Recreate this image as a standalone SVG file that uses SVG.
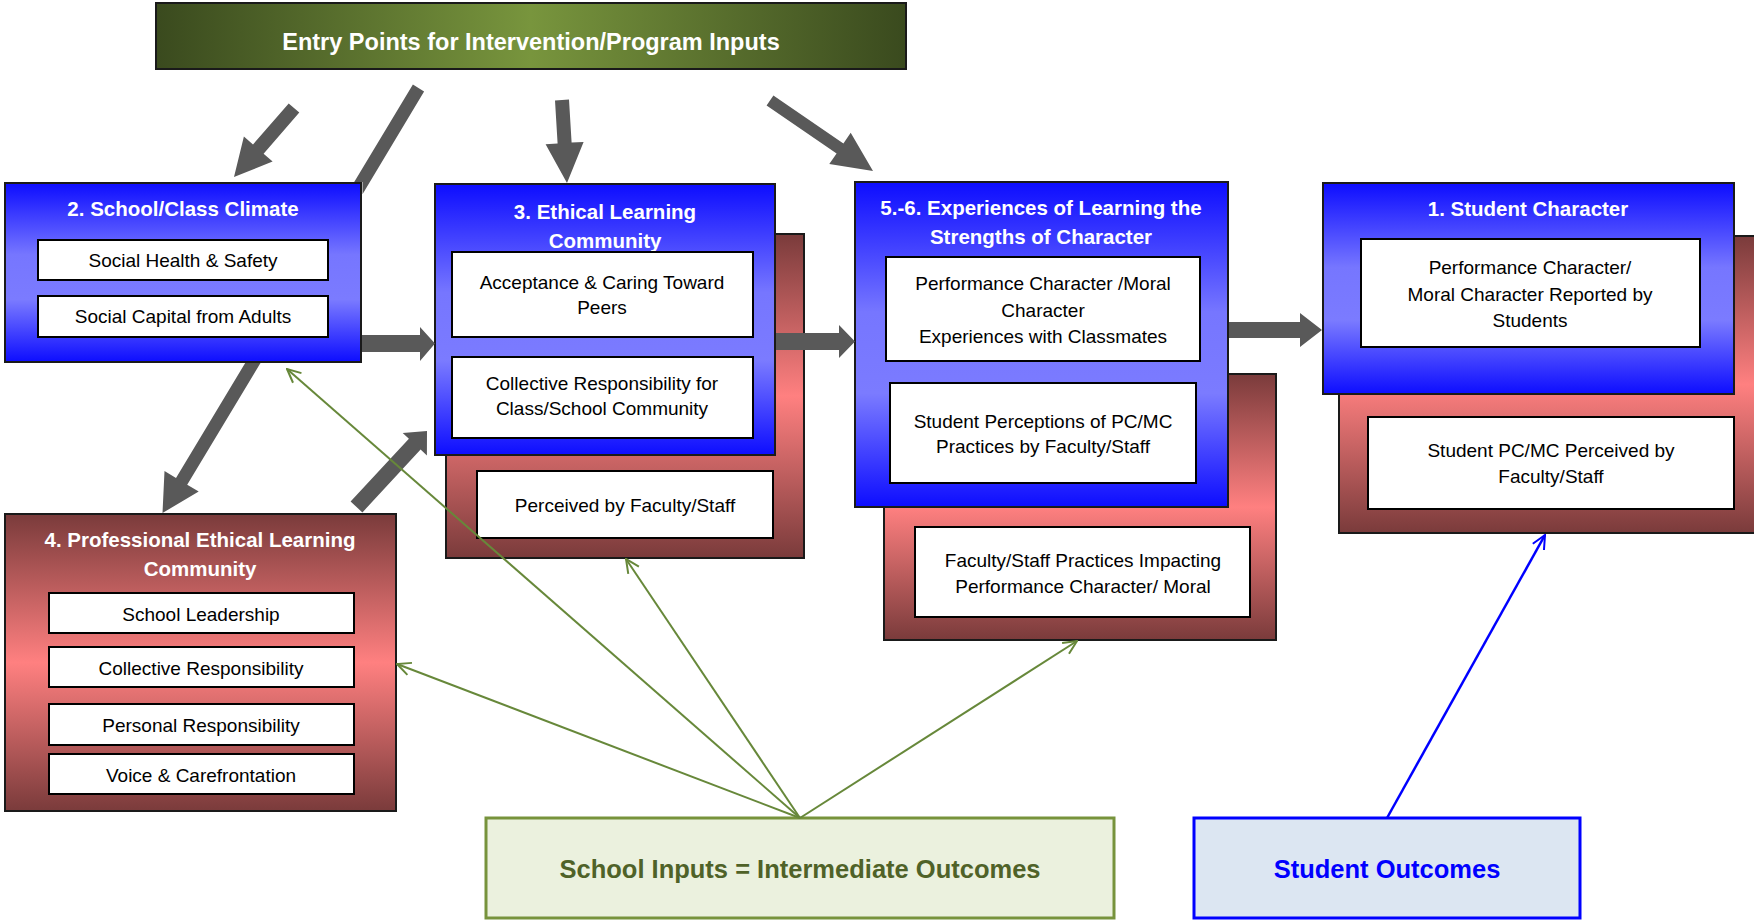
<svg xmlns="http://www.w3.org/2000/svg" width="1754" height="921" viewBox="0 0 1754 921">
<defs>
<linearGradient id="gBlue" x1="0" y1="0" x2="0" y2="1">
<stop offset="0" stop-color="#0d0dff"/>
<stop offset="0.4" stop-color="#7676ff"/>
<stop offset="0.65" stop-color="#7b7bff"/>
<stop offset="1" stop-color="#0d0dff"/>
</linearGradient>
<linearGradient id="gRed" x1="0" y1="0" x2="0" y2="1">
<stop offset="0" stop-color="#7a3b3b"/>
<stop offset="0.5" stop-color="#ff8080"/>
<stop offset="1" stop-color="#7a3b3b"/>
</linearGradient>
<linearGradient id="gTitle" x1="0" y1="0" x2="1" y2="0">
<stop offset="0" stop-color="#3a4a1e"/>
<stop offset="0.5" stop-color="#78953d"/>
<stop offset="1" stop-color="#3a4a1e"/>
</linearGradient>
<marker id="mGreen" viewBox="0 0 20 20" refX="19" refY="10" markerWidth="16" markerHeight="16" orient="auto" markerUnits="userSpaceOnUse">
<path d="M2,2 L19,10 L2,18" fill="none" stroke="#67883a" stroke-width="2.5"/>
</marker>
<marker id="mBlue" viewBox="0 0 20 20" refX="19" refY="10" markerWidth="16" markerHeight="16" orient="auto" markerUnits="userSpaceOnUse">
<path d="M2,2 L19,10 L2,18" fill="none" stroke="#0000ff" stroke-width="2.5"/>
</marker>
<style>
.box{stroke:#1a1a1a;stroke-width:2}
.blue{fill:url(#gBlue)}
.red{fill:url(#gRed)}
.inner{fill:#fff;stroke:#000;stroke-width:2}
text{font-family:"Liberation Sans",Arial,sans-serif}
.ttl{font-size:20.5px;font-weight:bold;fill:#fff;text-anchor:middle}
.lbl{font-size:19px;fill:#000;text-anchor:middle}
.garrow{fill:#595959}
.gline{stroke:#67883a;stroke-width:2;fill:none;marker-end:url(#mGreen)}
.bline{stroke:#0000ff;stroke-width:2.5;fill:none;marker-end:url(#mBlue)}
</style>
</defs>
<rect width="1754" height="921" fill="#fff"/>

<g id="title">
<rect x="156" y="3" width="750" height="66" fill="url(#gTitle)" class="box"/>
<text x="531" y="50" style="font-size:23.5px;font-weight:bold;fill:#fff;text-anchor:middle">Entry Points for Intervention/Program Inputs</text>
</g>

<g id="node2">
<rect x="5" y="183" width="356" height="179" class="box blue"/>
<text x="183" y="216" class="ttl">2. School/Class Climate</text>
<rect x="38" y="240" width="290" height="40" class="inner"/>
<text x="183" y="267" class="lbl">Social Health &amp; Safety</text>
<rect x="38" y="296" width="290" height="41" class="inner"/>
<text x="183" y="323" class="lbl">Social Capital from Adults</text>
</g>

<g id="node3">
<rect x="446" y="234" width="358" height="324" class="box red"/>
<rect x="435" y="184" width="340" height="271" class="box blue"/>
<text x="605" y="219" class="ttl">3. Ethical Learning</text>
<text x="605" y="248" class="ttl">Community</text>
<rect x="452" y="252" width="301" height="85" class="inner"/>
<text x="602" y="289" class="lbl">Acceptance &amp; Caring Toward</text>
<text x="602" y="314" class="lbl">Peers</text>
<rect x="452" y="357" width="301" height="81" class="inner"/>
<text x="602" y="390" class="lbl">Collective Responsibility for</text>
<text x="602" y="415" class="lbl">Class/School Community</text>
<rect x="477" y="471" width="296" height="67" class="inner"/>
<text x="625" y="512" class="lbl">Perceived by Faculty/Staff</text>
</g>

<g id="node56">
<rect x="884" y="374" width="392" height="266" class="box red"/>
<rect x="855" y="182" width="373" height="325" class="box blue"/>
<text x="1041" y="215" class="ttl">5.-6. Experiences of Learning the</text>
<text x="1041" y="244" class="ttl">Strengths of Character</text>
<rect x="886" y="257" width="314" height="104" class="inner"/>
<text x="1043" y="290" class="lbl">Performance Character /Moral</text>
<text x="1043" y="317" class="lbl">Character</text>
<text x="1043" y="343" class="lbl">Experiences with Classmates</text>
<rect x="890" y="383" width="306" height="100" class="inner"/>
<text x="1043" y="428" class="lbl">Student Perceptions of PC/MC</text>
<text x="1043" y="453" class="lbl">Practices by Faculty/Staff</text>
<rect x="915" y="527" width="335" height="90" class="inner"/>
<text x="1083" y="567" class="lbl">Faculty/Staff Practices Impacting</text>
<text x="1083" y="593" class="lbl">Performance Character/ Moral</text>
</g>

<g id="node1">
<rect x="1339" y="236" width="430" height="297" class="box red"/>
<rect x="1323" y="183" width="411" height="211" class="box blue"/>
<text x="1528" y="216" class="ttl">1. Student Character</text>
<rect x="1361" y="239" width="339" height="108" class="inner"/>
<text x="1530" y="274" class="lbl">Performance Character/</text>
<text x="1530" y="301" class="lbl">Moral Character Reported by</text>
<text x="1530" y="327" class="lbl">Students</text>
<rect x="1368" y="417" width="366" height="92" class="inner"/>
<text x="1551" y="457" class="lbl">Student PC/MC Perceived by</text>
<text x="1551" y="483" class="lbl">Faculty/Staff</text>
</g>

<g id="node4">
<rect x="5" y="514" width="391" height="297" class="box red"/>
<text x="200" y="547" class="ttl">4. Professional Ethical Learning</text>
<text x="200" y="576" class="ttl">Community</text>
<rect x="49" y="593" width="305" height="40" class="inner"/>
<text x="201" y="621" class="lbl">School Leadership</text>
<rect x="49" y="647" width="305" height="40" class="inner"/>
<text x="201" y="675" class="lbl">Collective Responsibility</text>
<rect x="49" y="704" width="305" height="41" class="inner"/>
<text x="201" y="732" class="lbl">Personal Responsibility</text>
<rect x="49" y="754" width="305" height="40" class="inner"/>
<text x="201" y="782" class="lbl">Voice &amp; Carefrontation</text>
</g>

<g id="schoolInputs">
<rect x="486" y="818" width="628" height="100" fill="#ebf1de" stroke="#77933c" stroke-width="3"/>
<text x="800" y="878" style="font-size:25.5px;font-weight:bold;fill:#4f6228;text-anchor:middle">School Inputs = Intermediate Outcomes</text>
</g>

<g id="studentOutcomes">
<rect x="1194" y="818" width="386" height="100" fill="#dce6f2" stroke="#0000ff" stroke-width="3"/>
<text x="1387" y="878" style="font-size:25.5px;font-weight:bold;fill:#0000ff;text-anchor:middle">Student Outcomes</text>
</g>

<g id="connectors">
<polygon class="garrow" points="288.7,103.4 253.0,144.5 243.9,136.6 234,177 272.6,161.5 263.6,153.7 299.3,112.6"/>
<polygon class="garrow" points="412.9,84.6 354.2,182 362.5,182 362.5,194.2 424.1,91.4"/>
<polygon class="garrow" points="245.2,363 176.0,478.0 164.5,471.0 162.5,513 198.7,491.6 187.2,484.7 260.5,363"/>
<polygon class="garrow" points="555.0,100.4 557.6,143.5 545.6,144.2 567,183 583.6,141.9 571.6,142.6 569.0,99.6"/>
<polygon class="garrow" points="766.6,105.5 836.6,153.4 829.3,164.1 873,171 850.7,132.7 843.4,143.4 773.4,95.6"/>
<polygon class="garrow" points="362,335 420,335 420,327 435,343.5 420,361 420,352 362,352"/>
<polygon class="garrow" points="776,333 839,333 839,325 855,341.5 839,358 839,350 776,350"/>
<polygon class="garrow" points="1229,322 1300,322 1300,313 1322,330 1300,347 1300,338 1229,338"/>
<polygon class="garrow" points="362.4,512.4 420.6,449.6 426.9,455.4 427,431 402.7,433.0 408.9,438.8 350.6,501.6"/>
<line class="gline" x1="800" y1="818" x2="287" y2="369"/>
<line class="gline" x1="800" y1="818" x2="397" y2="664"/>
<line class="gline" x1="800" y1="818" x2="626" y2="559"/>
<line class="gline" x1="800" y1="818" x2="1077" y2="641"/>
<line class="bline" x1="1387" y1="818" x2="1545" y2="535"/>
</g>
</svg>
